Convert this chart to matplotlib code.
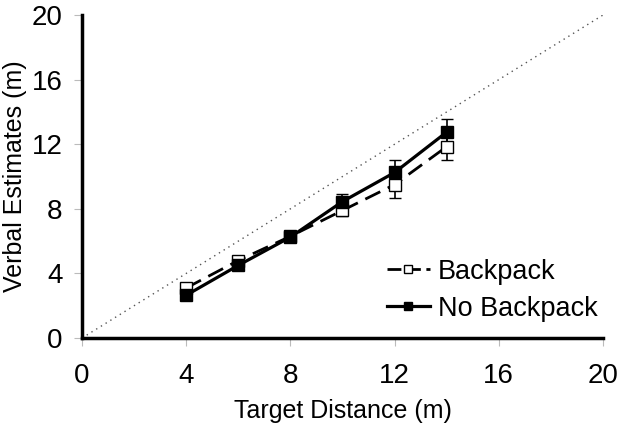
import matplotlib.pyplot as plt
from matplotlib.lines import Line2D

plt.rcParams['font.family'] = ['Liberation Sans', 'DejaVu Sans']

distance = [4, 6, 8, 10, 12, 14]
backpack = [3.1, 4.8, 6.3, 7.9, 9.5, 11.85]
backpack_err = [0.2, 0.2, 0.3, 0.35, 0.8, 0.8]
no_backpack = [2.65, 4.5, 6.25, 8.45, 10.25, 12.75]
no_backpack_err = [0.2, 0.2, 0.3, 0.45, 0.75, 0.8]
ticks = [0, 4, 8, 12, 16, 20]

fig = plt.figure(figsize=(6.21, 4.29), dpi=100)
ax = fig.add_axes([0.132, 0.212, 0.839, 0.753])

ax.plot([0, 20], [0, 20], color='#555555', linestyle=(0, (1, 3)), linewidth=1)

ax.errorbar(distance, backpack, yerr=backpack_err, color='black', linestyle=(0, (6, 3)),
            linewidth=2, marker='s', markersize=8, markerfacecolor='white',
            markeredgecolor='black', markeredgewidth=1, capsize=4, elinewidth=1.2)
ax.errorbar(distance, no_backpack, yerr=no_backpack_err, color='black', linestyle='-',
            linewidth=2.3, marker='s', markersize=8, markerfacecolor='black',
            markeredgecolor='black', capsize=4, elinewidth=1.2)

ax.set_xlim(0, 20)
ax.set_ylim(0, 20)
ax.set_xticks(ticks)
ax.set_yticks(ticks)
ax.tick_params(direction='out', length=6, color='#bbbbbb', labelsize=20)
ax.tick_params(axis='x', pad=12)
ax.tick_params(axis='y', pad=8)
for s in ['top', 'right']:
    ax.spines[s].set_visible(False)
for s in ['left', 'bottom']:
    ax.spines[s].set_linewidth(2.5)
ax.set_xlabel('Target Distance (m)', fontsize=18)
ax.set_ylabel('Verbal Estimates (m)', fontsize=18)
ax.xaxis.set_label_coords(0.5, -0.19)
ax.yaxis.set_label_coords(-0.106, 0.5)

handles = [
    Line2D([], [], color='black', linestyle=(0, (5, 2)), linewidth=2, marker='s',
           markersize=6, markerfacecolor='white', markeredgewidth=1),
    Line2D([], [], color='black', linestyle='-', linewidth=2.3, marker='s',
           markersize=6, markerfacecolor='black'),
]
ax.legend(handles, ['Backpack', 'No Backpack'], loc='lower right',
          bbox_to_anchor=(1.037, -0.025), frameon=False, fontsize=19.5,
          handlelength=1.6, handletextpad=0.3, labelspacing=0.4)

fig.savefig('out.png', dpi=100)
